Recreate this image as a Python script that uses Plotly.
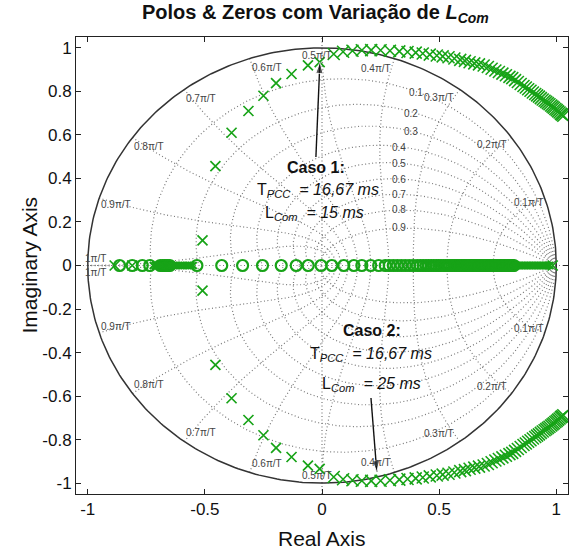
import numpy as np
import plotly.graph_objects as go

# ---- data: poles (x) and zeros (o) of the z-domain model while L_Com varies ----
# complex pole pair, upper half-plane (the conjugates are drawn mirrored)
pole_inner_re = [-0.51, -0.455, -0.386, -0.314, -0.25, -0.196, -0.13, -0.06, -0.01]
pole_inner_im = [0.115, 0.457, 0.61, 0.71, 0.78, 0.838, 0.88, 0.92, 0.935]

pole_arc_re = [0.05, 0.09, 0.13, 0.17, 0.21, 0.25, 0.29, 0.33, 0.365, 0.40,
               0.43, 0.46, 0.49, 0.515, 0.54, 0.565, 0.59, 0.61, 0.63, 0.65,
               0.67, 0.69, 0.708, 0.724, 0.74, 0.755, 0.77, 0.785, 0.80, 0.812,
               0.824, 0.836, 0.848, 0.86, 0.87, 0.88, 0.89, 0.90, 0.91, 0.918,
               0.926, 0.934, 0.942, 0.95, 0.957, 0.964, 0.971, 0.978, 0.984, 0.99,
               0.996, 1.002, 1.008, 1.014, 1.02, 1.025, 1.03]
pole_arc_im = [0.972, 0.982, 0.987, 0.989, 0.99, 0.989, 0.987, 0.984, 0.981, 0.978,
               0.974, 0.969, 0.965, 0.961, 0.957, 0.951, 0.945, 0.94, 0.934, 0.929,
               0.924, 0.919, 0.912, 0.904, 0.896, 0.889, 0.882, 0.874, 0.867, 0.861,
               0.852, 0.843, 0.834, 0.825, 0.818, 0.81, 0.803, 0.795, 0.788, 0.782,
               0.776, 0.769, 0.763, 0.757, 0.752, 0.746, 0.741, 0.735, 0.73, 0.725,
               0.719, 0.714, 0.708, 0.703, 0.697, 0.693, 0.688]

# real poles
pole_real = [-0.885, -0.81, 0.453, 0.51, 0.55, 0.59, 0.985]
pole_real_dense = [-0.72, -0.71, -0.70, -0.69, -0.68, -0.67, -0.665, -0.66, -0.65, -0.64,
                   -0.63, -0.62, -0.61, -0.60, -0.59, -0.58, -0.57, -0.56, -0.55,
                   0.825, 0.832, 0.839, 0.846, 0.853, 0.86, 0.867, 0.874, 0.881, 0.888,
                   0.895, 0.902, 0.909, 0.916, 0.923, 0.93, 0.937, 0.944, 0.951, 0.958,
                   0.965, 0.972]

# real zeros
zero_real = [-0.864, -0.81, -0.767, -0.735, -0.69, -0.68, -0.672, -0.665, -0.658, -0.65,
             -0.534, -0.428, -0.339, -0.254, -0.174, -0.11, -0.059, -0.004, 0.042, 0.093,
             0.136, 0.17, 0.208, 0.242, 0.27, 0.287, 0.304, 0.321, 0.338, 0.355,
             0.372, 0.389, 0.406, 0.42, 0.432, 0.444, 0.455, 0.466, 0.477, 0.488,
             0.498, 0.508, 0.518, 0.528, 0.537, 0.546, 0.555, 0.564, 0.572, 0.58,
             0.588, 0.596, 0.603, 0.61, 0.617, 0.624, 0.631, 0.638, 0.645, 0.651,
             0.657, 0.663, 0.669, 0.675, 0.681, 0.687, 0.693, 0.699, 0.705, 0.711,
             0.717, 0.723, 0.729, 0.735, 0.741, 0.747, 0.753, 0.759, 0.765, 0.771,
             0.777, 0.783, 0.789, 0.795, 0.801, 0.807, 0.813, 0.819]

# z-plane grid: damping ratios and natural frequencies (in pi/T)
zeta_vals = [0.1, 0.2, 0.3, 0.4, 0.5, 0.6, 0.7, 0.8, 0.9]
wn_vals = [0.1, 0.2, 0.3, 0.4, 0.5, 0.6, 0.7, 0.8, 0.9, 1.0]
wn_text = ["0.1\u03c0/T", "0.2\u03c0/T", "0.3\u03c0/T", "0.4\u03c0/T", "0.5\u03c0/T",
           "0.6\u03c0/T", "0.7\u03c0/T", "0.8\u03c0/T", "0.9\u03c0/T", "1\u03c0/T"]

GREEN = "#17a317"
GRID = "#7a7a7a"
FONT = "Liberation Sans, Arial, sans-serif"

fig = go.Figure()

# ---- grid curves ----
gx, gy = [], []
w = np.linspace(0, np.pi, 240)
for zt in zeta_vals:
    m = zt / np.sqrt(1 - zt ** 2)
    z = np.exp(w * (-m + 1j))
    for s in (1, -1):
        gx += list(z.real) + [None]
        gy += list(s * z.imag) + [None]
zz = np.linspace(0, 1, 160)
for wn in wn_vals:
    z = np.exp(wn * np.pi * (-zz + 1j * np.sqrt(1 - zz ** 2)))
    for s in (1, -1):
        gx += list(z.real) + [None]
        gy += list(s * z.imag) + [None]
# axis lines through the origin
gx += [-1.05, 1.05, None, 0, 0, None]
gy += [0, 0, None, -1.05, 1.05, None]
fig.add_trace(go.Scatter(x=gx, y=gy, mode="lines", hoverinfo="skip",
                         line=dict(color=GRID, width=1.2, dash="1px,2.5px")))

# unit circle
t = np.linspace(0, 2 * np.pi, 400)
fig.add_trace(go.Scatter(x=np.cos(t), y=np.sin(t), mode="lines", hoverinfo="skip",
                         line=dict(color="#333333", width=1.5)))

# ---- poles and zeros ----
zx = dict(symbol="circle-open", size=11, color=GREEN, line=dict(color=GREEN, width=2.2))
fig.add_trace(go.Scatter(x=zero_real, y=[0] * len(zero_real), mode="markers", marker=zx))

px_ = dict(symbol="x-thin", size=10, color=GREEN, line=dict(color=GREEN, width=1.7))
inner_re = pole_inner_re + pole_inner_re
inner_im = pole_inner_im + [-v for v in pole_inner_im]
fig.add_trace(go.Scatter(x=inner_re, y=inner_im, mode="markers", marker=px_))

pa = dict(symbol="x-thin", size=12, color=GREEN, line=dict(color=GREEN, width=1.6))
arc_re = pole_arc_re + pole_arc_re
arc_im = pole_arc_im + [-v for v in pole_arc_im]
fig.add_trace(go.Scatter(x=arc_re, y=arc_im, mode="markers", marker=pa))

fig.add_trace(go.Scatter(x=pole_real, y=[0] * len(pole_real), mode="markers", marker=px_))
ps = dict(symbol="x-thin", size=7, color=GREEN, line=dict(color=GREEN, width=2))
fig.add_trace(go.Scatter(x=pole_real_dense, y=[0] * len(pole_real_dense), mode="markers", marker=ps))

# ---- case arrows (drawn as line + filled head) ----
arrows = [((-0.026, 0.499), (-0.009, 0.935)), ((0.209, -0.609), (0.234, -0.949))]
for (x0, y0), (x1, y1) in arrows:
    fig.add_trace(go.Scatter(x=[x0, x1], y=[y0, y1], mode="lines", hoverinfo="skip",
                             line=dict(color="#111111", width=1.4)))
    fig.add_trace(go.Scatter(x=[x1], y=[y1], mode="markers", hoverinfo="skip",
                             marker=dict(symbol="arrow", size=12, color="#111111",
                                         angleref="previous", standoff=0)))
    # point the head along the shaft
    fig.data[-1].x = [x0, x1]
    fig.data[-1].y = [y0, y1]
    fig.data[-1].marker.size = [0, 12]

# ---- grid labels ----
ann = []
wn_pos = [(0.885, 0.29), (0.725, 0.556), (0.50, 0.77), (0.23, 0.905), (-0.02, 0.967),
          (-0.233, 0.91), (-0.517, 0.768), (-0.74, 0.547), (-0.88, 0.28), (-0.965, 0.03)]
for txt, (lx, ly) in zip(wn_text, wn_pos):
    for s in (1, -1):
        ann.append(dict(x=lx, y=s * ly, text=txt, showarrow=False,
                        font=dict(family=FONT, size=10, color="#444444")))
zeta_pos = [(0.40, 0.795), (0.38, 0.70), (0.38, 0.615), (0.33, 0.54), (0.33, 0.47),
            (0.33, 0.395), (0.33, 0.326), (0.33, 0.257), (0.33, 0.175)]
for zt, (lx, ly) in zip(zeta_vals, zeta_pos):
    ann.append(dict(x=lx, y=ly, text=f"{zt:.1f}", showarrow=False,
                    font=dict(family=FONT, size=10, color="#444444")))

# ---- case annotations ----
tf = dict(family=FONT, size=16, color="#111111")
ann += [
    dict(x=-0.026, y=0.452, text="<b>Caso 1:</b>", showarrow=False, font=tf),
    dict(x=-0.017, y=0.345, text="T<sub><i>PCC</i></sub><i>  = 16,67 ms</i>", showarrow=False, font=tf),
    dict(x=-0.03, y=0.24, text="L<sub><i>Com</i></sub><i>  = 15 ms</i>", showarrow=False, font=tf),
    dict(x=0.213, y=-0.30, text="<b>Caso 2:</b>", showarrow=False, font=tf),
    dict(x=0.21, y=-0.41, text="T<sub><i>PCC</i></sub><i>  = 16,67 ms</i>", showarrow=False, font=tf),
    dict(x=0.21, y=-0.545, text="L<sub><i>Com</i></sub><i>  = 25 ms</i>", showarrow=False, font=tf),
]

# ---- title and axis titles ----
ann += [
    dict(xref="paper", yref="paper", x=0.5, y=1, yshift=9, xshift=-7, yanchor="bottom",
         text="<b>Polos & Zeros com Variação de <i>L</i><sub><i>Com</i></sub></b>",
         showarrow=False, font=dict(family=FONT, size=20, color="#111111")),
    dict(xref="paper", yref="paper", x=0.5, y=0, yshift=-44, yanchor="middle",
         text="Real Axis", showarrow=False, font=dict(family=FONT, size=21, color="#111111")),
    dict(xref="paper", yref="paper", x=0, y=0.5, xshift=-47, xanchor="center", yanchor="middle",
         textangle=-90, text="Imaginary Axis", showarrow=False,
         font=dict(family=FONT, size=21, color="#111111")),
]

x_ticks = [-1, -0.5, 0, 0.5, 1]
y_ticks = [-1, -0.8, -0.6, -0.4, -0.2, 0, 0.2, 0.4, 0.6, 0.8, 1]

fig.update_layout(
    width=571, height=554,
    margin=dict(l=76, r=3, t=37, b=60),
    paper_bgcolor="white", plot_bgcolor="white",
    showlegend=False,
    annotations=ann,
    font=dict(family=FONT, size=17, color="#111111"),
    xaxis=dict(range=[-1.05, 1.05], tickvals=x_ticks, ticktext=[f"{v:g}" for v in x_ticks],
               ticks="inside", ticklen=5, tickcolor="#222", showline=True, linecolor="#222",
               linewidth=1, mirror="ticks", showgrid=False, zeroline=False,
               tickfont=dict(size=17)),
    yaxis=dict(range=[-1.05, 1.05], tickvals=y_ticks, ticktext=[f"{v:g}" for v in y_ticks],
               ticks="inside", ticklen=5, tickcolor="#222", showline=True, linecolor="#222",
               linewidth=1, mirror="ticks", showgrid=False, zeroline=False,
               tickfont=dict(size=17)),
)

fig.write_html("out.html")
